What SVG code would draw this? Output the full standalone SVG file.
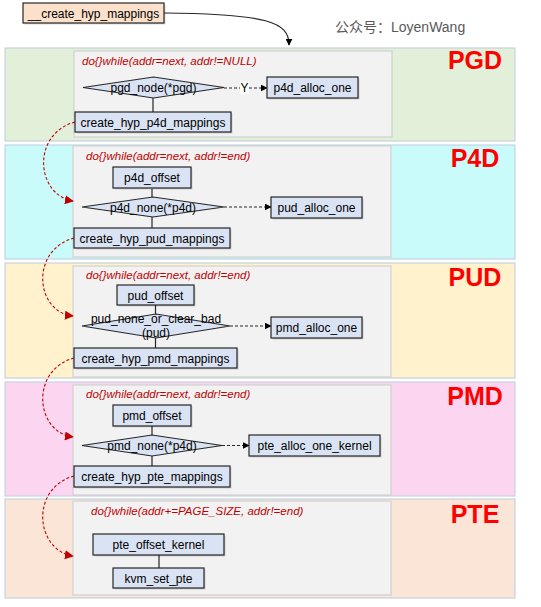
<svg xmlns="http://www.w3.org/2000/svg" width="541" height="607" viewBox="0 0 541 607">
<style>
.band{stroke:#c5d3e0;stroke-width:1.2}
.inner{fill:#f2f2f2;stroke:#cbcbcb;stroke-width:1}
.node{fill:#dae3f3;stroke:#262626;stroke-width:1.2}
.shadow{fill:#000;opacity:0.15}
.t{font-family:"Liberation Sans",Arial,sans-serif;font-size:12px;fill:#000;text-anchor:middle}
.loop{font-family:"Liberation Sans",Arial,sans-serif;font-size:11.5px;font-style:italic;fill:#c00000}
.lvl{font-family:"Liberation Sans",Arial,sans-serif;font-size:25px;font-weight:bold;fill:#ff0000;text-anchor:middle}
.line{stroke:#262626;stroke-width:1.2;fill:none}
.dash{stroke:#262626;stroke-width:1.2;fill:none;stroke-dasharray:3,2}
.red{stroke:#c00000;stroke-width:1.1;fill:none;stroke-dasharray:3,2}
</style>
<defs>
<marker id="ab" viewBox="0 0 10 10" refX="9" refY="5" markerWidth="7" markerHeight="7" markerUnits="userSpaceOnUse" orient="auto"><path d="M0,0 L10,5 L0,10 z" fill="#000"/></marker>
<marker id="ar" viewBox="0 0 10 10" refX="9" refY="5" markerWidth="9" markerHeight="9" markerUnits="userSpaceOnUse" orient="auto"><path d="M0,0 L10,5 L0,10 z" fill="#c00000"/></marker>
</defs>
<rect width="541" height="607" fill="#fff"/>
<g id="bands">
<rect class="band" x="5" y="48" width="510" height="93" fill="#e2efd9"/>
<rect class="band" x="5" y="145" width="510" height="114" fill="#c9fbfb"/>
<rect class="band" x="5" y="263" width="510" height="115" fill="#fff2cc"/>
<rect class="band" x="5" y="382" width="510" height="114" fill="#fcd5f0"/>
<rect class="band" x="5" y="499" width="510" height="99" fill="#fbe5d6"/>
<rect class="inner" x="74" y="51" width="318" height="86"/>
<rect class="inner" x="73" y="146" width="318" height="111"/>
<rect class="inner" x="73" y="266" width="318" height="111"/>
<rect class="inner" x="73" y="385" width="318" height="110"/>
<rect class="inner" x="73" y="501" width="318" height="94"/>
<text class="lvl" x="475" y="69">PGD</text>
<text class="lvl" x="475" y="167">P4D</text>
<text class="lvl" x="475" y="286">PUD</text>
<text class="lvl" x="475" y="405">PMD</text>
<text class="lvl" x="475" y="523">PTE</text>
<text class="loop" x="82" y="65">do{}while(addr=next, addr!=NULL)</text>
<text class="loop" x="86" y="160">do{}while(addr=next, addr!=end)</text>
<text class="loop" x="86" y="279">do{}while(addr=next, addr!=end)</text>
<text class="loop" x="86" y="398">do{}while(addr=next, addr!=end)</text>
<text class="loop" x="91" y="515">do{}while(addr+=PAGE_SIZE, addr!=end)</text>
<text x="335" y="32" font-family="'Liberation Sans','Noto Sans CJK SC',sans-serif" font-size="14" fill="#595959">公众号：LoyenWang</text>
</g>
<g id="connectors">
<path class="line" d="M164,13 C268,14 289,22 289,45" marker-end="url(#ab)"/>
<path class="line" d="M153,98 V112"/>
<path class="dash" d="M224,88 H267" marker-end="url(#ab)"/>
<rect x="240" y="82" width="9" height="12" fill="#fff"/>
<text class="t" x="244.5" y="92" font-size="11">Y</text>
<path class="line" d="M152,189 V197 M152,217 V228"/>
<path class="dash" d="M224,207 H271" marker-end="url(#ab)"/>
<path class="line" d="M155.5,305 V314 M155.5,338 V348"/>
<path class="dash" d="M230,326 H271" marker-end="url(#ab)"/>
<path class="line" d="M152,426 V435 M152,456 V466"/>
<path class="dash" d="M222,445.5 H249" marker-end="url(#ab)"/>
<path class="line" d="M159,555 V568"/>
<path class="red" d="M75,122 C31,134 36,195 73,201" marker-end="url(#ar)"/>
<path class="red" d="M74,238 C30,250 35,312 73,316" marker-end="url(#ar)"/>
<path class="red" d="M74,358 C30,370 35,432 73,437" marker-end="url(#ar)"/>
<path class="red" d="M74,476 C30,488 35,550 73,556" marker-end="url(#ar)"/>
</g>
<g id="n-create-hyp-mappings"><rect class="shadow" x="24.5" y="4.5" width="141" height="20"/><rect class="node" x="23" y="3" width="141" height="20" fill="#fbe0cc" style="fill:#fbe0cc"/><text class="t" x="93.5" y="17.5">__create_hyp_mappings</text></g>
<g id="n-pgd-node"><polygon class="node" points="83,87.5 153.5,77 224,87.5 153.5,98"/><text class="t" x="153.5" y="92">pgd_node(*pgd)</text></g>
<g id="n-p4d-alloc-one"><rect class="shadow" x="268.5" y="78.5" width="91" height="21"/><rect class="node" x="267" y="77" width="91" height="21"/><text class="t" x="312.5" y="92">p4d_alloc_one</text></g>
<g id="n-create-hyp-p4d-mappings"><rect class="shadow" x="76.5" y="113.5" width="156" height="20"/><rect class="node" x="75" y="112" width="156" height="20"/><text class="t" x="153" y="126.5">create_hyp_p4d_mappings</text></g>
<g id="n-p4d-offset"><rect class="shadow" x="114.5" y="168.5" width="78" height="21"/><rect class="node" x="113" y="167" width="78" height="21"/><text class="t" x="152" y="182">p4d_offset</text></g>
<g id="n-p4d-none"><polygon class="node" points="82,207 153,197 224,207 153,217"/><text class="t" x="153" y="211.5">p4d_none(*p4d)</text></g>
<g id="n-pud-alloc-one"><rect class="shadow" x="272.5" y="198.5" width="91" height="21"/><rect class="node" x="271" y="197" width="91" height="21"/><text class="t" x="316.5" y="212">pud_alloc_one</text></g>
<g id="n-create-hyp-pud-mappings"><rect class="shadow" x="75.5" y="229.5" width="156" height="20"/><rect class="node" x="74" y="228" width="156" height="20"/><text class="t" x="152" y="242.5">create_hyp_pud_mappings</text></g>
<g id="n-pud-offset"><rect class="shadow" x="118.5" y="286.5" width="77" height="20"/><rect class="node" x="117" y="285" width="77" height="20"/><text class="t" x="155.5" y="299.5">pud_offset</text></g>
<g id="n-pud-none"><polygon class="node" points="82,326 156,314 230,326 156,338"/><text class="t" x="156" y="323">pud_none_or_clear_bad</text><text class="t" x="156" y="337">(pud)</text></g>
<g id="n-pmd-alloc-one"><rect class="shadow" x="272.5" y="318.5" width="91" height="21"/><rect class="node" x="271" y="317" width="91" height="21"/><text class="t" x="316.5" y="332">pmd_alloc_one</text></g>
<g id="n-create-hyp-pmd-mappings"><rect class="shadow" x="75.5" y="349.5" width="163" height="20"/><rect class="node" x="74" y="348" width="163" height="20"/><text class="t" x="155.5" y="362.5">create_hyp_pmd_mappings</text></g>
<g id="n-pmd-offset"><rect class="shadow" x="114.5" y="406.5" width="78" height="21"/><rect class="node" x="113" y="405" width="78" height="21"/><text class="t" x="152" y="420">pmd_offset</text></g>
<g id="n-pmd-none"><polygon class="node" points="82,445.5 152,435 222,445.5 152,456"/><text class="t" x="152" y="450">pmd_none(*p4d)</text></g>
<g id="n-pte-alloc-one-kernel"><rect class="shadow" x="250.5" y="436.5" width="131" height="21"/><rect class="node" x="249" y="435" width="131" height="21"/><text class="t" x="314.5" y="450">pte_alloc_one_kernel</text></g>
<g id="n-create-hyp-pte-mappings"><rect class="shadow" x="75.5" y="467.5" width="156" height="21"/><rect class="node" x="74" y="466" width="156" height="21"/><text class="t" x="152" y="481">create_hyp_pte_mappings</text></g>
<g id="n-pte-offset-kernel"><rect class="shadow" x="94.5" y="535.5" width="131" height="21"/><rect class="node" x="93" y="534" width="131" height="21"/><text class="t" x="158.5" y="549">pte_offset_kernel</text></g>
<g id="n-kvm-set-pte"><rect class="shadow" x="114.5" y="569.5" width="91" height="20"/><rect class="node" x="113" y="568" width="91" height="20"/><text class="t" x="158.5" y="582.5">kvm_set_pte</text></g>
</svg>
